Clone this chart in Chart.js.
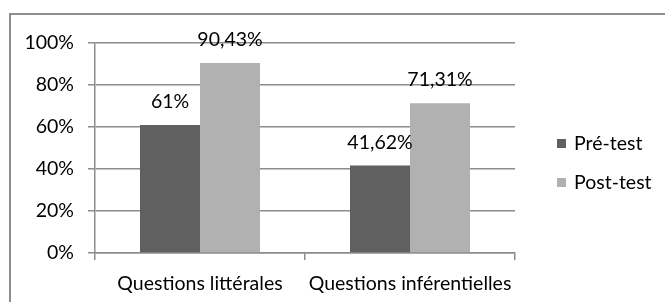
<!DOCTYPE html>
<html>
<head>
<meta charset="utf-8">
<script src="https://cdn.jsdelivr.net/npm/chart.js@4.4.0/dist/chart.umd.min.js"></script>
<style>
  html, body { margin: 0; padding: 0; background: #fff; }
  #wrap { position: relative; width: 665px; height: 302px; overflow: hidden; }
  #frame {
    position: absolute; left: 9px; top: 13px; width: 700px; height: 400px;
    border-top: 2px solid #8e8e8e; border-left: 2px solid #8e8e8e;
  }
  #chart { position: absolute; left: 0; top: 0; }
</style>
</head>
<body>
<div id="wrap">
  <div id="frame"></div>
  <canvas id="chart" width="665" height="302"></canvas>
</div>
<script>
// Chart data
const categories = ["Questions littérales", "Questions inférentielles"];
const seriesNames = ["Pré-test", "Post-test"];
const preTest = [61, 41.62];
const postTest = [90.43, 71.31];
const seriesColors = ["#606060", "#b1b1b1"];
const yTicks = [0, 20, 40, 60, 80, 100];

const fontFamily = "Lato, 'Open Sans', sans-serif";
const fontSize = 19.5;

function formatPercent(v) {
  return String(v).replace(".", ",") + "%";
}

// Value labels above each bar
const barLabels = {
  id: "barLabels",
  afterDatasetsDraw(chart) {
    const ctx = chart.ctx;
    ctx.save();
    ctx.font = fontSize + "px " + fontFamily;
    ctx.fillStyle = "#000";
    ctx.textAlign = "center";
    ctx.textBaseline = "alphabetic";
    chart.data.datasets.forEach((ds, i) => {
      chart.getDatasetMeta(i).data.forEach((bar, j) => {
        ctx.fillText(formatPercent(ds.data[j]), bar.x, bar.y - 17);
      });
    });
    ctx.restore();
  },
};

// Legend on the right, drawn from the datasets
const sideLegend = {
  id: "sideLegend",
  afterDraw(chart) {
    const ctx = chart.ctx;
    ctx.save();
    ctx.font = fontSize + "px " + fontFamily;
    ctx.textBaseline = "middle";
    ctx.textAlign = "left";
    chart.data.datasets.forEach((ds, i) => {
      const y = 144 + i * 39;
      ctx.fillStyle = ds.backgroundColor;
      ctx.fillRect(557, y - 5, 9, 9);
      ctx.fillStyle = "#000";
      ctx.fillText(ds.label, 574, y);
    });
    ctx.restore();
  },
};

const grey = "#8c8c8c";

new Chart(document.getElementById("chart"), {
  type: "bar",
  data: {
    labels: categories,
    datasets: [
      { label: seriesNames[0], data: preTest, backgroundColor: seriesColors[0] },
      { label: seriesNames[1], data: postTest, backgroundColor: seriesColors[1] },
    ],
  },
  options: {
    responsive: false,
    animation: false,
    events: [],
    layout: { padding: { left: 0, right: 150, top: 43, bottom: 0 } },
    datasets: { bar: { categoryPercentage: 0.5714, barPercentage: 1 } },
    plugins: { legend: { display: false }, tooltip: { enabled: false } },
    scales: {
      x: {
        afterFit(scale) { scale.height = 49; },
        grid: { drawOnChartArea: false, drawTicks: true, tickLength: 7, color: grey, lineWidth: 1.5 },
        border: { color: grey, width: 1.5 },
        ticks: { color: "#000", font: { family: fontFamily, size: fontSize }, padding: 12 },
      },
      y: {
        min: 0,
        max: 100,
        afterFit(scale) { scale.width = 95; },
        afterBuildTicks(scale) { scale.ticks = yTicks.map((v) => ({ value: v })); },
        grid: { color: grey, lineWidth: 1.5, tickLength: 7 },
        border: { color: grey, width: 1.5 },
        ticks: {
          color: "#000",
          font: { family: fontFamily, size: fontSize },
          padding: 14,
          callback: (v) => v + "%",
        },
      },
    },
  },
  plugins: [barLabels, sideLegend],
});
</script>
</body>
</html>
